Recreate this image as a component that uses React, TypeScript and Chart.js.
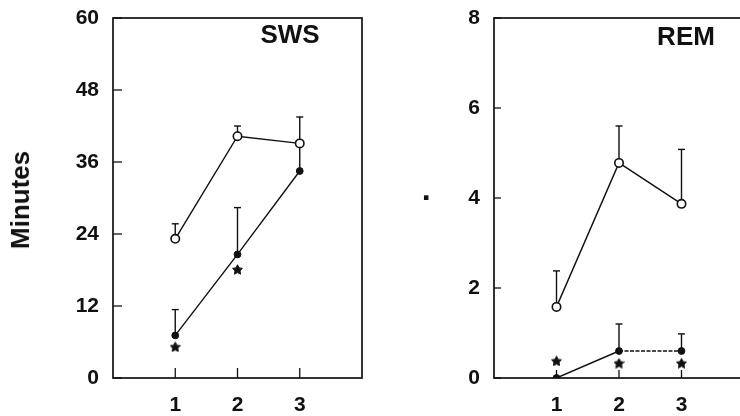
import React, { useEffect, useRef } from "react";
import { Chart, registerables } from "chart.js";

Chart.register(...registerables);

// ---- data ----
const X_VALUES = [1, 2, 3];
const X_TICK_LABELS = ["1", "2", "3"];

const SWS_Y_TICKS = [0, 12, 24, 36, 48, 60];
const SWS_OPEN = [23.2, 40.3, 39.1];
const SWS_OPEN_TOP = [25.7, 42.0, 43.5];
const SWS_FILLED = [7.1, 20.6, 34.5];
const SWS_FILLED_TOP = [11.4, 28.4, 39.1];
const SWS_FILLED_CAP = [true, true, false];
const SWS_STAR_X = [1, 2];
const SWS_STAR_Y = [5.2, 18.1];

const REM_Y_TICKS = [0, 2, 4, 6, 8];
const REM_OPEN = [1.58, 4.78, 3.87];
const REM_OPEN_TOP = [2.38, 5.6, 5.08];
const REM_FILLED = [0, 0.6, 0.6];
const REM_FILLED_TOP = [null, 1.2, 0.98];
const REM_STAR_X = [1, 2, 3];
const REM_STAR_Y = [0.38, 0.33, 0.33];

const INK = "#111";
const FONT = "'Liberation Sans', Arial, Helvetica, sans-serif";

function makeStarImage(size: number) {
  const c = document.createElement("canvas");
  c.width = size;
  c.height = size;
  const g = c.getContext("2d") as CanvasRenderingContext2D;
  const cx = size / 2;
  const cy = size / 2 + 0.5;
  const ro = size / 2 - 0.3;
  const ri = ro * 0.5;
  g.beginPath();
  for (let i = 0; i < 10; i++) {
    const r = i % 2 === 0 ? ro : ri;
    const a = -Math.PI / 2 + (i * Math.PI) / 5;
    const px = cx + r * Math.cos(a);
    const py = cy + r * Math.sin(a);
    if (i === 0) g.moveTo(px, py);
    else g.lineTo(px, py);
  }
  g.closePath();
  g.fillStyle = INK;
  g.fill();
  g.strokeStyle = INK;
  g.lineWidth = 1;
  g.stroke();
  return c;
}

const framePlugin = {
  id: "frameErr",
  beforeDatasetsDraw(chart: any, _args: any, opts: any) {
    const { ctx, chartArea, scales } = chart;
    const { left, right, top, bottom } = chartArea;
    const x = scales.x;
    const y = scales.y;
    ctx.save();
    ctx.strokeStyle = INK;
    ctx.lineWidth = 1.7;
    ctx.strokeRect(left, top, right - left, bottom - top);
    ctx.lineWidth = 1.3;
    for (const v of opts.yTicks) {
      const py = y.getPixelForValue(v);
      ctx.beginPath();
      ctx.moveTo(left, py);
      ctx.lineTo(left + opts.yTickLen, py);
      ctx.stroke();
    }
    for (const v of X_VALUES) {
      const px = x.getPixelForValue(v);
      ctx.beginPath();
      ctx.moveTo(px, bottom);
      ctx.lineTo(px, bottom - opts.xTickLen);
      ctx.stroke();
    }
    ctx.lineWidth = 1.4;
    for (const s of opts.bars) {
      for (let i = 0; i < X_VALUES.length; i++) {
        const t = s.top[i];
        if (t == null) continue;
        const px = x.getPixelForValue(X_VALUES[i]);
        const p0 = y.getPixelForValue(s.val[i]);
        const p1 = y.getPixelForValue(t);
        ctx.beginPath();
        ctx.moveTo(px, p0);
        ctx.lineTo(px, p1);
        ctx.stroke();
        if (!s.cap || s.cap[i]) {
          ctx.beginPath();
          ctx.moveTo(px - 3.5, p1);
          ctx.lineTo(px + 3.5, p1);
          ctx.stroke();
        }
      }
    }
    ctx.restore();
  },
};

function makeConfig(p: any, starImg: HTMLCanvasElement) {
  const pts = (vals: number[]) => X_VALUES.map((xv, i) => ({ x: xv, y: vals[i] }));
  const stars = p.starX.map((xv: number, i: number) => ({ x: xv, y: p.starY[i] }));
  return {
    type: "line",
    data: {
      datasets: [
        {
          data: pts(p.filled),
          borderColor: INK,
          borderWidth: 1.4,
          pointRadius: 3.4,
          pointBackgroundColor: INK,
          pointBorderColor: INK,
          pointBorderWidth: 1,
          segment: p.dashLast
            ? { borderDash: (c: any) => (c.p0DataIndex === 1 ? [4, 1.5] : undefined) }
            : undefined,
        },
        {
          data: pts(p.open),
          borderColor: INK,
          borderWidth: 1.4,
          pointRadius: 4.2,
          pointBackgroundColor: "#fff",
          pointBorderColor: INK,
          pointBorderWidth: 1.6,
        },
        {
          data: stars,
          showLine: false,
          pointStyle: starImg,
          pointRadius: 6,
        },
      ],
    },
    options: {
      responsive: false,
      animation: false,
      devicePixelRatio: 1,
      layout: { autoPadding: false, padding: { left: 0, right: p.padRight, top: 18, bottom: 0 } },
      plugins: {
        legend: { display: false },
        tooltip: { enabled: false },
        frameErr: {
          yTicks: p.yTicks,
          yTickLen: p.yTickLen,
          xTickLen: p.xTickLen,
          bars: [
            { val: p.open, top: p.openTop },
            { val: p.filled, top: p.filledTop, cap: p.filledCap },
          ],
        },
      },
      scales: {
        x: {
          type: "linear",
          min: 0,
          max: 4,
          afterFit: (s: any) => {
            s.height = 38;
            s.paddingLeft = 0;
            s.paddingRight = 0;
          },
          afterBuildTicks: (s: any) => {
            s.ticks = [0, 1, 2, 3, 4].map((v) => ({ value: v }));
          },
          ticks: {
            autoSkip: false,
            maxRotation: 0,
            padding: 15,
            color: INK,
            font: { family: FONT, weight: "bold", size: 21 },
            callback: (v: number) => {
              const i = X_VALUES.indexOf(v);
              return i >= 0 ? X_TICK_LABELS[i] : "";
            },
          },
          grid: { display: false, drawTicks: false },
          border: { display: false },
        },
        y: {
          type: "linear",
          min: p.yTicks[0],
          max: p.yTicks[p.yTicks.length - 1],
          afterFit: (s: any) => {
            s.width = p.yWidth;
            s.paddingTop = 0;
            s.paddingBottom = 0;
          },
          afterBuildTicks: (s: any) => {
            s.ticks = p.yTicks.map((v: number) => ({ value: v }));
          },
          ticks: {
            padding: 14,
            color: INK,
            font: { family: FONT, weight: "bold", size: 21 },
            callback: (v: number) => String(v),
          },
          grid: { display: false, drawTicks: false },
          border: { display: false },
        },
      },
    },
    plugins: [framePlugin],
  };
}

function Panel(props: { cfg: any; left: number; width: number }) {
  const ref = useRef<HTMLCanvasElement>(null);
  useEffect(() => {
    const starImg = makeStarImage(11);
    const chart = new Chart(ref.current as HTMLCanvasElement, makeConfig(props.cfg, starImg) as any);
    return () => chart.destroy();
  }, []);
  return (
    <canvas
      ref={ref}
      width={props.width}
      height={416}
      style={{ position: "absolute", left: props.left, top: 0, width: props.width, height: 416 }}
    />
  );
}

const swsCfg = {
  open: SWS_OPEN,
  openTop: SWS_OPEN_TOP,
  filled: SWS_FILLED,
  filledTop: SWS_FILLED_TOP,
  filledCap: SWS_FILLED_CAP,
  starX: SWS_STAR_X,
  starY: SWS_STAR_Y,
  yTicks: SWS_Y_TICKS,
  yWidth: 113,
  padRight: 8,
  yTickLen: 9,
  xTickLen: 10,
  dashLast: false,
};

const remCfg = {
  open: REM_OPEN,
  openTop: REM_OPEN_TOP,
  filled: REM_FILLED,
  filledTop: REM_FILLED_TOP,
  filledCap: null,
  starX: REM_STAR_X,
  starY: REM_STAR_Y,
  yTicks: REM_Y_TICKS,
  yWidth: 124,
  padRight: 26,
  yTickLen: 7,
  xTickLen: 8,
  dashLast: true,
};

const textStyle: React.CSSProperties = {
  position: "absolute",
  fontFamily: FONT,
  fontWeight: "bold",
  color: INK,
  whiteSpace: "nowrap",
  lineHeight: 1,
};

export default function App() {
  return (
    <div
      style={{
        position: "absolute",
        left: 0,
        top: 0,
        width: 740,
        height: 416,
        overflow: "hidden",
        background: "#fff",
      }}
    >
      <Panel cfg={swsCfg} left={0} width={370} />
      <Panel cfg={remCfg} left={370} width={400} />
      <div
        style={{
          ...textStyle,
          fontSize: 26,
          left: 20,
          top: 200,
          transform: "translate(-50%, -50%) rotate(-90deg)",
        }}
      >
        Minutes
      </div>
      <div style={{ ...textStyle, fontSize: 26, left: 290, top: 34, transform: "translate(-50%, -50%)" }}>SWS</div>
      <div style={{ ...textStyle, fontSize: 26, left: 686, top: 36, transform: "translate(-50%, -50%)" }}>REM</div>
      <div style={{ ...textStyle, fontSize: 32, left: 427, top: 199, transform: "translate(-50%, -55%)" }}>·</div>
    </div>
  );
}
